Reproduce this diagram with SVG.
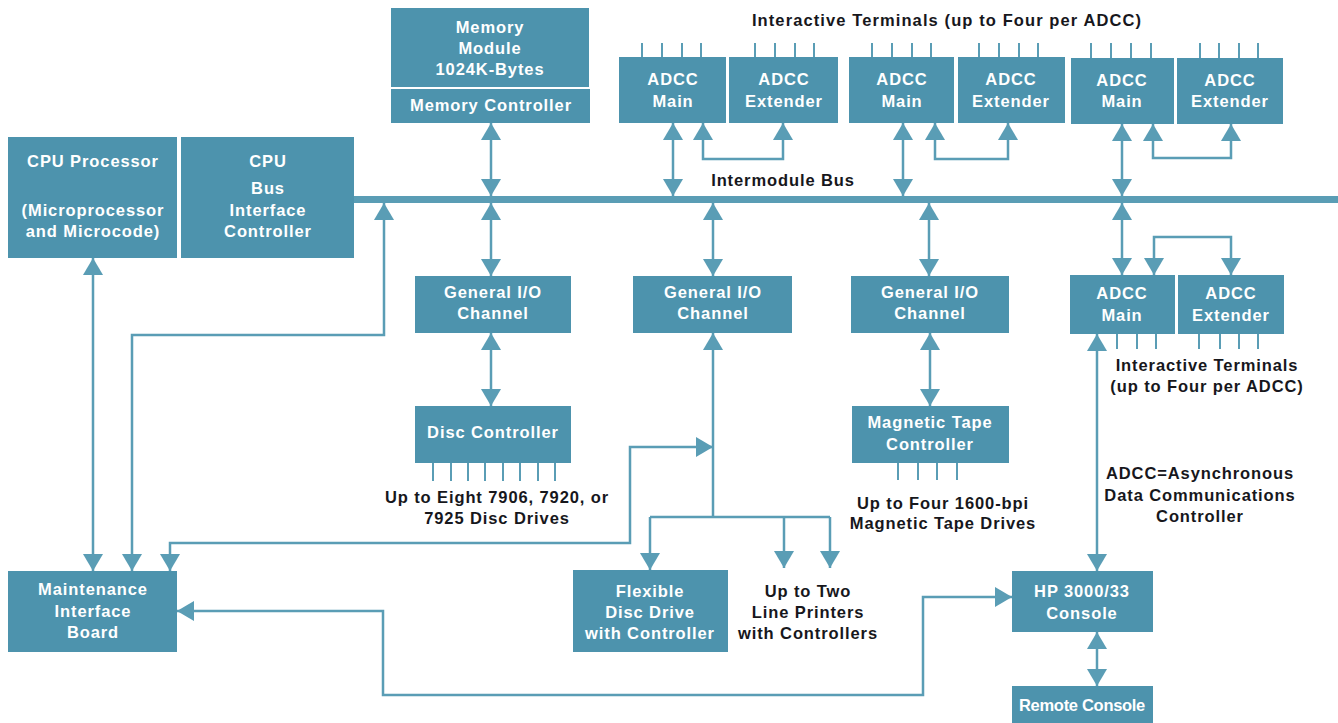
<svg xmlns="http://www.w3.org/2000/svg" width="1338" height="723" viewBox="0 0 1338 723">
<style>
.box{fill:#4d93ad}
.bt{font-family:"Liberation Sans",Arial,sans-serif;font-weight:bold;font-size:16.5px;letter-spacing:0.9px;fill:#ffffff;text-anchor:middle}
.lt{font-family:"Liberation Sans",Arial,sans-serif;font-weight:bold;font-size:16.5px;letter-spacing:0.9px;fill:#17171c;text-anchor:middle}
.c{fill:none;stroke:#5a9db5;stroke-width:2.5}
.ab{marker-start:url(#ah);marker-end:url(#ah)}
.ae{marker-end:url(#ah)}
.tk{stroke:#5a9db5;stroke-width:2;fill:none}
</style>
<defs>
<marker id="ah" markerUnits="userSpaceOnUse" markerWidth="18" markerHeight="20" refX="17" refY="10" orient="auto-start-reverse" viewBox="0 0 18 20">
<path d="M0,0 L17,10 L0,20 z" fill="#5a9db5"/>
</marker>
</defs>
<rect width="1338" height="723" fill="#ffffff"/>

<g id="connectors">
<rect x="354" y="196" width="984" height="7" fill="#5a9db5"/>
<line class="c ab" x1="491" y1="123" x2="491" y2="196"/>
<line class="c ab" x1="491" y1="203" x2="491" y2="276"/>
<line class="c ab" x1="713" y1="203" x2="713" y2="276"/>
<line class="c ab" x1="929" y1="203" x2="929" y2="276"/>
<line class="c ab" x1="491" y1="333" x2="491" y2="406"/>
<line class="c ab" x1="930" y1="333" x2="930" y2="406"/>
<line class="c ab" x1="673" y1="123" x2="673" y2="196"/>
<path class="c ab" d="M703,123 V159 H783 V123"/>
<line class="c ab" x1="903" y1="123" x2="903" y2="196"/>
<path class="c ab" d="M935,123 V159 H1008 V123"/>
<line class="c ab" x1="1122" y1="124" x2="1122" y2="196"/>
<path class="c ab" d="M1153,124 V158 H1231 V124"/>
<line class="c ab" x1="1122" y1="203" x2="1122" y2="275"/>
<path class="c ab" d="M1154,275 V237 H1231 V275"/>
<line class="c ab" x1="1097" y1="334" x2="1097" y2="571"/>
<line class="c ab" x1="1097" y1="632" x2="1097" y2="686"/>
<path class="c" d="M713,517 V333" style="marker-end:url(#ah)"/>
<path class="c" d="M650,517 H830"/>
<line class="c ae" x1="650" y1="517" x2="650" y2="570"/>
<line class="c ae" x1="784" y1="517" x2="784" y2="568"/>
<line class="c ae" x1="830" y1="517" x2="830" y2="568"/>
<path class="c ab" d="M170,571 V543 H630 V447 H713"/>
<line class="c ab" x1="93" y1="258" x2="93" y2="571"/>
<path class="c ab" d="M384,203 V335 H132 V571"/>
<path class="c ab" d="M1012,597 H923 V695 H383 V611 H177"/>
</g>

<g id="ticks">
<path class="tk" d="M642,43V57 M662,43V57 M682,43V57 M701,43V57 M755,43V57 M775,43V57 M795,43V57 M814,43V57"/>
<path class="tk" d="M872,43V57 M892,43V57 M912,43V57 M931,43V57 M979,43V57 M999,43V57 M1019,43V57 M1038,43V57"/>
<path class="tk" d="M1091,43V58 M1111,43V58 M1131,43V58 M1151,43V58 M1200,43V58 M1219,43V58 M1239,43V58 M1258,43V58"/>
<path class="tk" d="M1117,334V349 M1137,334V349 M1156,334V349 M1199,334V349 M1220,334V349 M1239,334V349 M1258,334V349"/>
<path class="tk" d="M433,463V481 M451,463V481 M468,463V481 M485,463V481 M503,463V481 M520,463V481 M538,463V481 M555,463V481"/>
<path class="tk" d="M898,463V480 M918,463V480 M937,463V480 M957,463V480"/>
</g>

<g id="cpu-processor">
<rect class="box" x="8" y="137" width="169" height="121"/>
<text class="bt" x="93" y="167">CPU Processor</text>
<text class="bt" x="93" y="216">(Microprocessor</text>
<text class="bt" x="93" y="237">and Microcode)</text>
</g>
<g id="cpu-bic">
<rect class="box" x="181" y="137" width="173" height="121"/>
<text class="bt" x="268" y="167">CPU</text>
<text class="bt" x="268" y="194">Bus</text>
<text class="bt" x="268" y="216">Interface</text>
<text class="bt" x="268" y="237">Controller</text>
</g>
<g id="memory-module">
<rect class="box" x="391" y="8" width="198" height="79"/>
<text class="bt" x="490" y="33">Memory</text>
<text class="bt" x="490" y="54">Module</text>
<text class="bt" x="490" y="75">1024K-Bytes</text>
</g>
<g id="memory-controller">
<rect class="box" x="391" y="89" width="199" height="34"/>
<text class="bt" x="491" y="111">Memory Controller</text>
</g>
<g id="adcc1-main"><rect class="box" x="619" y="57" width="107" height="66"/><text class="bt" x="673" y="85">ADCC</text><text class="bt" x="673" y="107">Main</text></g>
<g id="adcc1-ext"><rect class="box" x="729" y="57" width="109" height="66"/><text class="bt" x="784" y="85">ADCC</text><text class="bt" x="784" y="107">Extender</text></g>
<g id="adcc2-main"><rect class="box" x="849" y="57" width="105" height="66"/><text class="bt" x="902" y="85">ADCC</text><text class="bt" x="902" y="107">Main</text></g>
<g id="adcc2-ext"><rect class="box" x="958" y="57" width="107" height="66"/><text class="bt" x="1011" y="85">ADCC</text><text class="bt" x="1011" y="107">Extender</text></g>
<g id="adcc3-main"><rect class="box" x="1071" y="58" width="103" height="66"/><text class="bt" x="1122" y="86">ADCC</text><text class="bt" x="1122" y="107">Main</text></g>
<g id="adcc3-ext"><rect class="box" x="1177" y="58" width="106" height="66"/><text class="bt" x="1230" y="86">ADCC</text><text class="bt" x="1230" y="107">Extender</text></g>
<g id="adcc4-main"><rect class="box" x="1070" y="275" width="105" height="59"/><text class="bt" x="1122" y="299">ADCC</text><text class="bt" x="1122" y="321">Main</text></g>
<g id="adcc4-ext"><rect class="box" x="1178" y="275" width="106" height="59"/><text class="bt" x="1231" y="299">ADCC</text><text class="bt" x="1231" y="321">Extender</text></g>
<g id="gio1"><rect class="box" x="415" y="276" width="156" height="57"/><text class="bt" x="493" y="298">General I/O</text><text class="bt" x="493" y="319">Channel</text></g>
<g id="gio2"><rect class="box" x="633" y="276" width="159" height="57"/><text class="bt" x="713" y="298">General I/O</text><text class="bt" x="713" y="319">Channel</text></g>
<g id="gio3"><rect class="box" x="851" y="276" width="158" height="57"/><text class="bt" x="930" y="298">General I/O</text><text class="bt" x="930" y="319">Channel</text></g>
<g id="disc-controller"><rect class="box" x="415" y="406" width="156" height="57"/><text class="bt" x="493" y="438">Disc Controller</text></g>
<g id="mtc"><rect class="box" x="852" y="406" width="157" height="57"/><text class="bt" x="930" y="428">Magnetic Tape</text><text class="bt" x="930" y="450">Controller</text></g>
<g id="flexible"><rect class="box" x="573" y="570" width="155" height="82"/><text class="bt" x="650" y="597">Flexible</text><text class="bt" x="650" y="618">Disc Drive</text><text class="bt" x="650" y="639">with Controller</text></g>
<g id="maintenance"><rect class="box" x="8" y="571" width="169" height="81"/><text class="bt" x="93" y="595">Maintenance</text><text class="bt" x="93" y="617">Interface</text><text class="bt" x="93" y="638">Board</text></g>
<g id="hp-console"><rect class="box" x="1012" y="571" width="141" height="61"/><text class="bt" x="1082" y="597">HP 3000/33</text><text class="bt" x="1082" y="619">Console</text></g>
<g id="remote-console"><rect class="box" x="1012" y="686" width="141" height="37"/><text class="bt" x="1082" y="711" style="font-size:16.5px;letter-spacing:-0.3px">Remote Console</text></g>

<g id="labels">
<text class="lt" x="947" y="26" style="letter-spacing:1.1px">Interactive Terminals (up to Four per ADCC)</text>
<text class="lt" x="783" y="186">Intermodule Bus</text>
<text class="lt" x="1207" y="371">Interactive Terminals</text>
<text class="lt" x="1207" y="392">(up to Four per ADCC)</text>
<text class="lt" x="1200" y="479">ADCC=Asynchronous</text>
<text class="lt" x="1200" y="501">Data Communications</text>
<text class="lt" x="1200" y="522">Controller</text>
<text class="lt" x="497" y="503">Up to Eight 7906, 7920, or</text>
<text class="lt" x="497" y="524">7925 Disc Drives</text>
<text class="lt" x="943" y="509">Up to Four 1600-bpi</text>
<text class="lt" x="943" y="529">Magnetic Tape Drives</text>
<text class="lt" x="808" y="597">Up to Two</text>
<text class="lt" x="808" y="618">Line Printers</text>
<text class="lt" x="808" y="639">with Controllers</text>
</g>
</svg>
